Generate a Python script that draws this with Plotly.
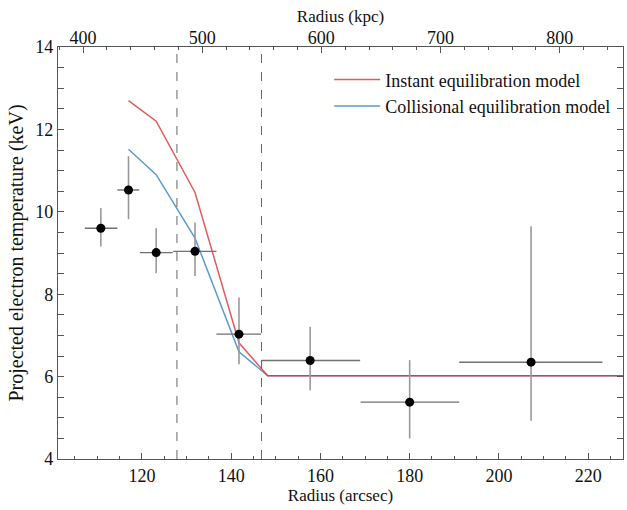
import plotly.graph_objects as go

# Data
radius = [110.8, 117.0, 123.2, 131.9, 141.75, 157.7, 180.0, 207.2]
radius_err_minus = [3.6, 2.5, 3.65, 4.9, 5.05, 10.9, 11.0, 16.1]
radius_err_plus = [3.7, 2.4, 3.7, 4.8, 4.95, 11.2, 11.1, 16.0]
temp = [9.60, 10.53, 9.01, 9.04, 7.03, 6.39, 5.38, 6.35]
temp_upper = [10.09, 11.35, 9.60, 9.74, 7.92, 7.21, 6.40, 9.65]
temp_lower = [9.16, 9.82, 8.51, 8.44, 6.30, 5.67, 4.50, 4.93]

model_radius = [117.0, 123.2, 131.9, 141.75, 148.2, 229.0]
instant_model = [12.70, 12.20, 10.47, 6.82, 6.02, 6.02]
collisional_model = [11.52, 10.90, 9.36, 6.60, 6.02, 6.02]

dashed_lines = [127.85, 146.8]

KPC_PER_ARCSEC = 3.745
x_range = [101.2, 227.8]
y_range = [4, 14]

FONT = "Liberation Serif, Times New Roman, serif"
AXCOL = "#555555"
TXT = "#111111"

err_plus_y = [u - t for u, t in zip(temp_upper, temp)]
err_minus_y = [t - l for t, l in zip(temp, temp_lower)]

fig = go.Figure()

fig.add_trace(go.Scatter(
    x=model_radius, y=collisional_model, mode="lines",
    line=dict(color="#5a9bd0", width=1.5),
    name="Collisional equilibration model", legendrank=2,
))
fig.add_trace(go.Scatter(
    x=model_radius, y=instant_model, mode="lines",
    line=dict(color="rgba(220,50,50,0.8)", width=1.5),
    name="Instant equilibration model", legendrank=1,
))
fig.add_trace(go.Scatter(
    x=radius, y=temp, mode="markers",
    marker=dict(color="black", size=9),
    error_x=dict(type="data", symmetric=False, array=radius_err_plus,
                 arrayminus=radius_err_minus, color="#707070", thickness=1.4, width=0),
    error_y=dict(type="data", symmetric=False, array=err_plus_y,
                 arrayminus=err_minus_y, color="#999999", thickness=1.6, width=0),
    showlegend=False,
))
# invisible trace for top axis
fig.add_trace(go.Scatter(
    x=[v * KPC_PER_ARCSEC for v in x_range], y=[5, 5], xaxis="x2",
    mode="markers", marker=dict(opacity=0), showlegend=False, hoverinfo="skip",
))

for xv in dashed_lines:
    fig.add_shape(type="line", xref="x", yref="paper", x0=xv, x1=xv, y0=0, y1=1,
                  line=dict(color="#666666", width=1, dash="dash"))

fig.update_layout(
    width=627, height=510,
    margin=dict(l=58, r=4, t=47, b=51),
    paper_bgcolor="white", plot_bgcolor="white",
    font=dict(family=FONT, size=17, color=TXT),
    showlegend=True,
    legend=dict(x=0.48, y=0.965, xanchor="left", yanchor="top",
                bgcolor="rgba(0,0,0,0)", font=dict(family=FONT, size=18, color=TXT),
                itemwidth=46, tracegroupgap=0),
    xaxis=dict(
        range=x_range, showgrid=False, zeroline=False,
        showline=True, linecolor=AXCOL, linewidth=1.2, mirror=False,
        ticks="inside", ticklen=6, tickcolor=AXCOL, dtick=20, tick0=0,
        minor=dict(ticks="inside", ticklen=3, dtick=5, tickcolor=AXCOL),
        title=dict(text="Radius (arcsec)", font=dict(size=17), standoff=2),
        tickfont=dict(size=18),
    ),
    xaxis2=dict(
        range=[v * KPC_PER_ARCSEC for v in x_range], overlaying="x", side="top",
        showgrid=False, zeroline=False,
        showline=True, linecolor=AXCOL, linewidth=1.2,
        ticks="inside", ticklen=6, tickcolor=AXCOL, dtick=100, tick0=0,
        minor=dict(ticks="inside", ticklen=3, dtick=20, tickcolor=AXCOL),
        title=dict(text="Radius (kpc)", font=dict(size=17), standoff=0),
        tickfont=dict(size=18),
        ticklabelstandoff=-5,
    ),
    yaxis=dict(
        range=y_range, showgrid=False, zeroline=False,
        showline=True, linecolor=AXCOL, linewidth=1.2, mirror="allticks",
        ticks="inside", ticklen=6, tickcolor=AXCOL, dtick=2, tick0=0,
        minor=dict(ticks="inside", ticklen=3, dtick=0.5, tickcolor=AXCOL),
        title=dict(text="Projected electron temperature (keV)", font=dict(size=20), standoff=6),
        tickfont=dict(size=18),
    ),
)

fig.write_html("out.html")
